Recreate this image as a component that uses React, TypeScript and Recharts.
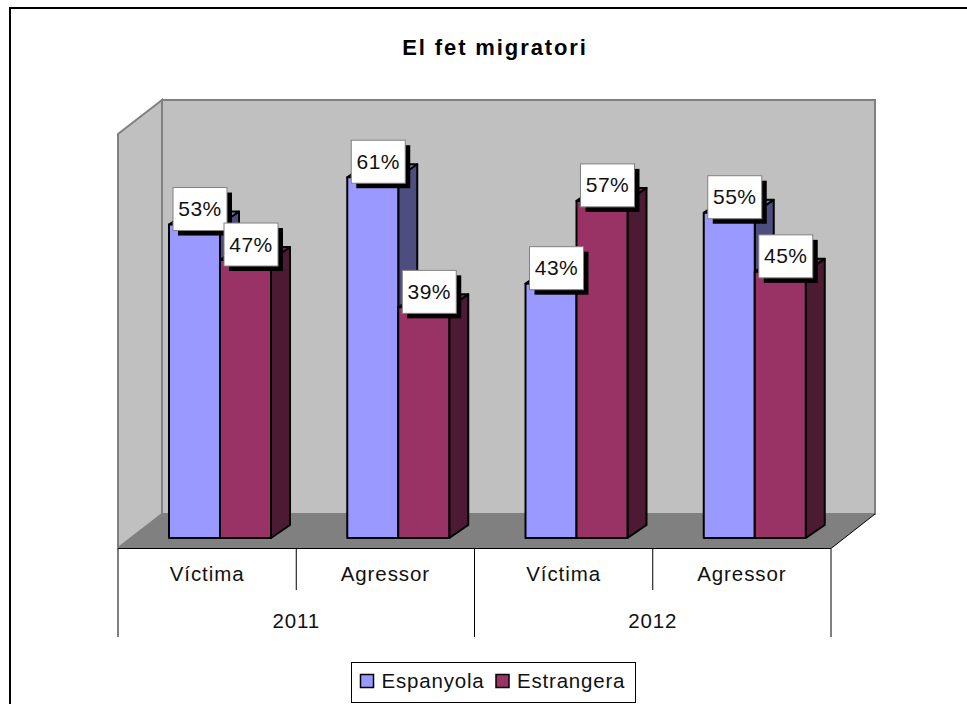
import { Bar, BarChart, XAxis, YAxis } from "recharts";

const categories = ["Víctima", "Agressor", "Víctima", "Agressor"];
const years = ["2011", "2012"];
const espanyola = [53, 61, 43, 55];
const estrangera = [47, 39, 57, 45];

const rows = categories.map((label, i) => ({
  key: i,
  label,
  espanyola: espanyola[i],
  estrangera: estrangera[i],
}));

const WIDTH = 967;
const HEIGHT = 704;
const FONT = '"Liberation Sans", Arial, sans-serif';

// plot area = front face of the bars, floor sits a bit lower and to the left
const margin = { top: 124, right: 123.5, bottom: 136, left: 130.5 };
const plotWidth = WIDTH - margin.left - margin.right;
const depthX = 19;
const depthY = 13;
const floorShift = 12.5;

const series = [
  { key: "espanyola", name: "Espanyola", color: "#9999ff", side: "#4d4d80", top: "#7a7acc" },
  { key: "estrangera", name: "Estrangera", color: "#993366", side: "#4d1a33", top: "#7a2952" },
];

function Walls() {
  return (
    <g>
      <polygon points="118,134 162,100 162,514 118,548" fill="#c0c0c0" stroke="#808080" strokeWidth={2} />
      <rect x={162} y={100} width={713} height={414} fill="#c0c0c0" stroke="#808080" strokeWidth={2} />
      <polygon points="118,548.5 162,514 875,514 831,548.5" fill="#808080" />
      <line x1={831} y1={548.5} x2={875} y2={514} stroke="#000" strokeWidth={1} />
      <line x1={118} y1={548.5} x2={831} y2={548.5} stroke="#000" strokeWidth={1} />
    </g>
  );
}

function Frame() {
  return (
    <g>
      <line x1={10} y1={8} x2={WIDTH} y2={8} stroke="#000" strokeWidth={2} />
      <line x1={10} y1={7} x2={10} y2={HEIGHT} stroke="#000" strokeWidth={2} />
    </g>
  );
}

function Bar3D(props: any) {
  const { x, y, width, height, color, side, top } = props;
  const right = x + width;
  const bottom = y + height;
  return (
    <g stroke="#000" strokeWidth={2} strokeLinejoin="round">
      <polygon
        points={`${right},${y} ${right + depthX},${y - depthY} ${right + depthX},${bottom - depthY} ${right},${bottom}`}
        fill={side}
      />
      <polygon
        points={`${x},${y} ${x + depthX},${y - depthY} ${right + depthX},${y - depthY} ${right},${y}`}
        fill={top}
      />
      <rect x={x} y={y} width={width} height={height} fill={color} />
    </g>
  );
}

function ValueBox(props: any) {
  const { x, y, width, payload, dataKey } = props;
  const boxW = 54;
  const boxH = 43;
  const left = x + width / 2 + 5.5 - boxW / 2;
  const boxTop = y - 15.5 - boxH / 2;
  return (
    <g>
      <rect x={left + 5} y={boxTop + 5} width={boxW} height={boxH} fill="#000" />
      <rect x={left} y={boxTop} width={boxW} height={boxH} fill="#fff" stroke="#808080" strokeWidth={1} />
      <text
        x={left + boxW / 2}
        y={boxTop + 28.5}
        textAnchor="middle"
        fontFamily={FONT}
        fontSize={21}
        letterSpacing={0.5}
        fill="#111"
      >
        {payload[dataKey]}%
      </text>
    </g>
  );
}

function CategoryTick(props: any) {
  const { x, index, payload } = props;
  const band = plotWidth / categories.length;
  const cx = x - floorShift;
  const leftEdge = cx - band / 2;
  const rightEdge = cx + band / 2;
  const startsYear = index % 2 === 0;
  return (
    <g>
      <line x1={leftEdge} y1={549} x2={leftEdge} y2={startsYear ? 637 : 590} stroke="#000" strokeWidth={1} />
      {index === categories.length - 1 ? (
        <line x1={rightEdge} y1={549} x2={rightEdge} y2={637} stroke="#000" strokeWidth={1} />
      ) : null}
      <text x={cx} y={581} textAnchor="middle" fontFamily={FONT} fontSize={20.5} letterSpacing={0.9} fill="#111">
        {payload.value}
      </text>
      {startsYear ? null : (
        <text x={leftEdge} y={628} textAnchor="middle" fontFamily={FONT} fontSize={20.5} letterSpacing={0.9} fill="#111">
          {years[(index - 1) / 2]}
        </text>
      )}
    </g>
  );
}

function ChartLegend() {
  const swatches = [360.5, 496];
  const labels = [381.5, 517];
  return (
    <g>
      <rect x={351.5} y={662.5} width={284} height={40} fill="#fff" stroke="#000" strokeWidth={1} />
      {series.map((s, i) => (
        <g key={s.key}>
          <rect x={swatches[i]} y={674.5} width={13} height={13} fill={s.color} stroke="#000" strokeWidth={1.5} />
          <text x={labels[i]} y={688} fontFamily={FONT} fontSize={20.5} letterSpacing={0.8} fill="#111">
            {s.name}
          </text>
        </g>
      ))}
    </g>
  );
}

export default function App() {
  return (
    <div style={{ position: "absolute", left: 0, top: 0, width: WIDTH, height: HEIGHT, background: "#fff" }}>
      <BarChart width={WIDTH} height={HEIGHT} data={rows} margin={margin} barGap={0} barCategoryGap={38.5}>
        <Frame />
        <Walls />
        <text x={495} y={55} textAnchor="middle" fontFamily={FONT} fontSize={22} fontWeight={700} letterSpacing={1.9} fill="#000">
          El fet migratori
        </text>
        <XAxis dataKey="key" xAxisId={0} height={30} axisLine={false} tickLine={false} interval={0}
          tick={(p: any) => <CategoryTick {...p} payload={{ value: categories[p.index] }} />} />
        <XAxis dataKey="key" xAxisId="overlay" hide />
        <YAxis hide domain={[0, 70]} width={0} />
        {series.map((s) => (
          <Bar
            key={s.key}
            dataKey={s.key}
            isAnimationActive={false}
            shape={(p: any) => <Bar3D {...p} color={s.color} side={s.side} top={s.top} />}
          />
        ))}
        {series.map((s) => (
          <Bar
            key={`${s.key}-label`}
            dataKey={s.key}
            xAxisId="overlay"
            isAnimationActive={false}
            legendType="none"
            shape={(p: any) => <ValueBox {...p} dataKey={s.key} />}
          />
        ))}
        <ChartLegend />
      </BarChart>
    </div>
  );
}
